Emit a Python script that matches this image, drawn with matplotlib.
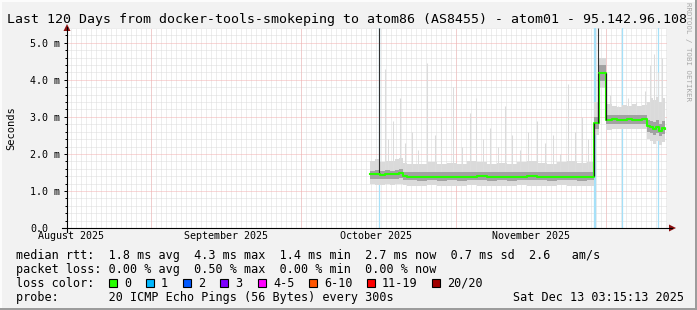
import matplotlib
matplotlib.use("Agg")
import matplotlib.pyplot as plt
import numpy as np
from matplotlib.patches import Rectangle, Polygon
from matplotlib.lines import Line2D
from datetime import datetime, timedelta

W, H = 697, 310
start = datetime(2025, 8, 15, 3, 15, 13)
end = datetime(2025, 12, 13, 3, 15, 13)

# sample times, in days since the start of the graph
days = [60.6, 61.5, 62.5, 63.5, 64.5, 65.5, 66.4, 67.2,
        68, 70, 72, 74, 76, 78, 80, 82, 84, 86, 88, 90, 92, 94, 96, 98, 100, 102, 104,
        105.4, 106.3, 107.8,
        109, 110, 111, 112, 113, 114, 115, 116,
        116.6, 117.2, 117.8, 118.4, 119.0, 119.6]
median = [1.45, 1.45, 1.44, 1.45, 1.45, 1.46, 1.49, 1.41,
          1.39, 1.38, 1.39, 1.38, 1.39, 1.38, 1.39, 1.40, 1.38, 1.39, 1.38, 1.39, 1.40, 1.39, 1.38, 1.39, 1.39, 1.38, 1.39,
          2.84, 4.19, 2.92,
          2.93, 2.92, 2.92, 2.93, 2.92, 2.92, 2.93, 2.76,
          2.72, 2.66, 2.74, 2.62, 2.70, 2.68]
inner_lo = [1.33, 1.32, 1.32, 1.33, 1.32, 1.33, 1.36, 1.30,
            1.29, 1.28, 1.29, 1.28, 1.29, 1.28, 1.29, 1.29, 1.28, 1.29, 1.28, 1.29, 1.29, 1.29, 1.28, 1.29, 1.29, 1.28, 1.29,
            2.68, 3.98, 2.80,
            2.82, 2.81, 2.81, 2.82, 2.81, 2.81, 2.82, 2.60,
            2.56, 2.50, 2.56, 2.48, 2.54, 2.52]
inner_hi = [1.55, 1.56, 1.55, 1.56, 1.55, 1.57, 1.60, 1.52,
            1.50, 1.50, 1.51, 1.50, 1.51, 1.50, 1.51, 1.52, 1.50, 1.51, 1.50, 1.51, 1.52, 1.51, 1.50, 1.51, 1.51, 1.50, 1.51,
            3.00, 4.40, 3.05,
            3.06, 3.05, 3.05, 3.06, 3.05, 3.05, 3.06, 2.92,
            2.90, 2.86, 2.92, 2.82, 2.88, 2.86]
outer_lo = [1.18, 1.16, 1.17, 1.18, 1.17, 1.18, 1.20, 1.15,
            1.14, 1.13, 1.15, 1.13, 1.14, 1.13, 1.15, 1.14, 1.13, 1.14, 1.13, 1.15, 1.14, 1.14, 1.13, 1.15, 1.14, 1.13, 1.14,
            2.50, 3.78, 2.65,
            2.68, 2.67, 2.66, 2.68, 2.67, 2.66, 2.67, 2.40,
            2.35, 2.28, 2.36, 2.25, 2.33, 2.30]
outer_hi = [1.80, 1.85, 1.78, 1.82, 1.80, 1.86, 1.90, 1.75,
            1.72, 1.74, 1.78, 1.73, 1.76, 1.72, 1.80, 1.78, 1.74, 1.76, 1.72, 1.78, 1.80, 1.76, 1.74, 1.78, 1.82, 1.75, 1.78,
            3.40, 4.60, 3.35,
            3.30, 3.28, 3.32, 3.30, 3.35, 3.30, 3.32, 3.40,
            3.50, 3.45, 3.55, 3.40, 3.50, 3.45]

# single high pings (light smoke streaks)
spike_days = [63.6, 64.2, 65.2, 66.6, 67.6, 69.0, 70.2, 72.0, 73.6, 74.8, 77.2, 79.0, 80.6,
              81.8, 83.2, 84.6, 86.2, 87.6, 89.0, 90.6, 92.2, 94.0, 95.6, 97.2, 98.6, 100.2,
              101.6, 103.0, 104.2, 108.6, 110.2, 112.2, 113.8, 115.6, 116.6, 117.4, 118.2, 119.0]
spike_tops = [4.3, 2.4, 2.9, 3.5, 2.3, 2.6, 2.1, 4.45, 2.5, 3.0, 3.8, 2.2, 3.1,
              3.5, 2.4, 2.7, 2.2, 3.3, 2.5, 2.1, 2.6, 2.9, 2.3, 2.5, 2.0, 3.9,
              2.6, 3.0, 2.4, 3.6, 3.3, 3.5, 3.4, 3.7, 4.4, 4.7, 4.2, 4.6]

# dark outlier / transition strokes
dark_days = [62.4, 105.4, 106.2, 107.8]
dark_lo = [1.45, 1.40, 2.84, 2.92]
dark_hi = [5.4, 2.85, 5.4, 4.19]

# periods with 1 lost ping (loss background)
loss_days = [62.4, 105.4, 105.6, 111.0, 118.2]

month_starts = [datetime(2025, 9, 1), datetime(2025, 10, 1), datetime(2025, 11, 1), datetime(2025, 12, 1)]
label_dates = [datetime(2025, 8, 16), datetime(2025, 9, 16), datetime(2025, 10, 16), datetime(2025, 11, 16)]
month_labels = ["August 2025", "September 2025", "October 2025", "November 2025"]
ytick_vals = [0, 1, 2, 3, 4, 5]
ytick_labels = ["0.0", "1.0 m", "2.0 m", "3.0 m", "4.0 m", "5.0 m"]

loss_names = ["0", "1", "2", "3", "4-5", "6-10", "11-19", "20/20"]
loss_colors = ["#26ff00", "#00b8ff", "#0059ff", "#7e00ff", "#ff00ff", "#ff5500", "#ff0000", "#a10000"]
swatch_x = [109, 146, 183, 220, 258, 309, 367, 432]

MONO = "DejaVu Sans Mono"


def off(dt):
    return (dt - start).total_seconds() / 86400.0


def px(x, y):
    return x / W, 1 - y / H


fig = plt.figure(figsize=(W / 100, H / 100), dpi=100, facecolor="#f2f2f2")

# 3d-ish frame like rrdtool
fig.add_artist(Rectangle(px(0, 310), 2 / W, 1, transform=fig.transFigure, color="#fcfcfc", lw=0))
fig.add_artist(Rectangle(px(0, 2), 1, 2 / H, transform=fig.transFigure, color="#fcfcfc", lw=0))
fig.add_artist(Rectangle(px(695, 310), 2 / W, 1, transform=fig.transFigure, color="#9c9c9c", lw=0))
fig.add_artist(Rectangle(px(0, 310), 1, 2 / H, transform=fig.transFigure, color="#9c9c9c", lw=0))

l, b = px(67, 228)
ax = fig.add_axes([l, b, 600 / W, 200 / H])
ax.set_facecolor("white")
ax.set_xlim(0, 120)
ax.set_ylim(0, 5.4)
for s in ax.spines.values():
    s.set_visible(False)

# grid
grid_c = "#dcdcdc"
d = datetime(2025, 8, 16)
while d < end:
    ax.axvline(off(d), color=grid_c, lw=0.72, ls=(0, (1, 1)), zorder=0.5)
    d += timedelta(days=1)
for v in np.arange(0.2, 5.41, 0.2):
    if abs(v - round(v)) > 1e-6:
        ax.axhline(v, color=grid_c, lw=0.72, ls=(0, (1, 1)), zorder=0.5)
for v in ytick_vals[1:]:
    ax.axhline(v, color="#f4b0b0", lw=0.72, ls=(0, (1, 1)), zorder=0.6)
for m in month_starts:
    ax.axvline(off(m), color="#f4b0b0", lw=0.72, ls=(0, (1, 1)), zorder=0.6)

# loss background
for dd in loss_days:
    ax.axvline(dd, color="#a6e0f8", lw=0.9, zorder=1)

# smoke
ax.fill_between(days, outer_lo, outer_hi, step="post", color="#dadada", lw=0, zorder=2)
base = np.interp(spike_days, days, median)
ax.vlines(spike_days, base, spike_tops, color="#dcdcdc", lw=0.75, zorder=2)
ax.fill_between(days, inner_lo, inner_hi, step="post", color="#a2a2a2", lw=0, zorder=3)
ax.vlines(dark_days, dark_lo, dark_hi, color="#303030", lw=0.8, zorder=3.5)
ax.step(days, median, where="post", color="#26ff00", lw=1.5, zorder=4)
ax.vlines(dark_days[1:], dark_lo[1:], [2.84, 4.19, 4.19], color="#202020", lw=0.8, zorder=4.5)

# ticks
ax.set_yticks(ytick_vals)
ax.set_yticklabels(ytick_labels, fontsize=7.2, family=MONO, ha="left")
ax.set_yticks(np.arange(0.2, 5.41, 0.2), minor=True)
ax.tick_params(axis="y", which="major", length=2.2, width=0.72, pad=24.5, direction="out")
ax.tick_params(axis="y", which="minor", length=1.5, width=0.72, direction="out")
ax.set_xticks([off(t) for t in label_dates])
ax.set_xticklabels(month_labels, fontsize=7.2, family=MONO)
ax.tick_params(axis="x", length=0, pad=2.5)

# axes with arrows
fig.add_artist(Line2D([62 / W, 672 / W], [1 - 228 / H] * 2, transform=fig.transFigure, color="black", lw=0.8))
fig.add_artist(Line2D([67 / W] * 2, [1 - 232 / H, 1 - 27 / H], transform=fig.transFigure, color="black", lw=0.8))
fig.add_artist(Polygon([px(669, 224.5), px(669, 231.5), px(676, 228)], closed=True,
                       transform=fig.transFigure, color="#8b1010", lw=0))
fig.add_artist(Polygon([px(63.5, 31), px(70.5, 31), px(67, 24)], closed=True,
                       transform=fig.transFigure, color="#8b1010", lw=0))

# texts
fig.text(*px(7, 23), "Last 120 Days from docker-tools-smokeping to atom86 (AS8455) - atom01 - 95.142.96.108",
         family=MONO, fontsize=9.55, va="baseline", ha="left")
fig.text(*px(11, 128), "Seconds", family=MONO, fontsize=7.5, rotation=90, ha="center", va="center")
fig.text(*px(688, 52), "RRDTOOL / TOBI OETIKER", family=MONO, fontsize=5.3, rotation=270,
         ha="center", va="center", color="#a8a8a8")

fs = 8.5
fig.text(*px(16, 259), "median rtt:  1.8 ms avg  4.3 ms max  1.4 ms min  2.7 ms now  0.7 ms sd  2.6   am/s",
         family=MONO, fontsize=fs, va="baseline")
fig.text(*px(16, 273), "packet loss: 0.00 % avg  0.50 % max  0.00 % min  0.00 % now",
         family=MONO, fontsize=fs, va="baseline")
fig.text(*px(16, 287), "loss color:", family=MONO, fontsize=fs, va="baseline")
for x0, c, name in zip(swatch_x, loss_colors, loss_names):
    fig.add_artist(Rectangle(px(x0, 287), 8 / W, 8 / H, transform=fig.transFigure,
                             facecolor=c, edgecolor="black", lw=0.8))
    fig.text(*px(x0 + 15, 287), name, family=MONO, fontsize=fs, va="baseline")
fig.text(*px(16, 301), "probe:       20 ICMP Echo Pings (56 Bytes) every 300s",
         family=MONO, fontsize=fs, va="baseline")
fig.text(*px(684, 301), "Sat Dec 13 03:15:13 2025", family=MONO, fontsize=fs, va="baseline", ha="right")

fig.savefig("out.png", dpi=100, facecolor=fig.get_facecolor())
